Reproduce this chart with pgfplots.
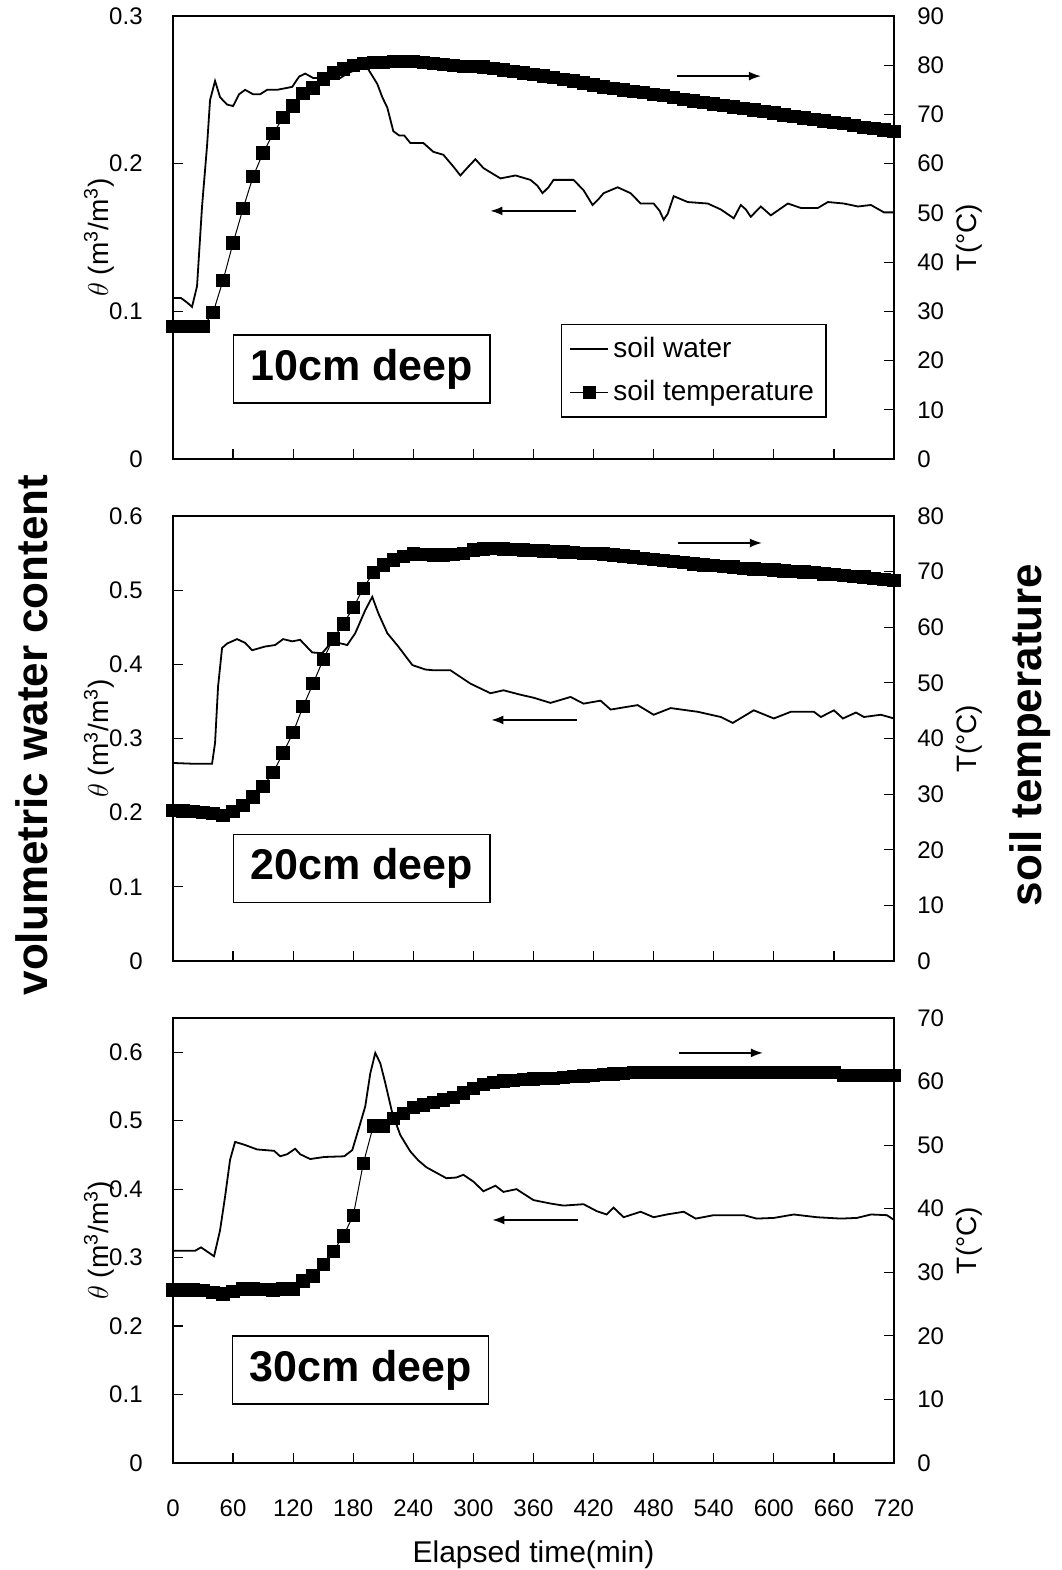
\documentclass[border=0pt]{standalone}
\usepackage{fontspec}
\setmainfont{Liberation Sans}
\usepackage{pgfplots}
\pgfplotsset{compat=1.18}
\usetikzlibrary{arrows.meta}

\pgfplotsset{
  panel/.style={scale only axis, width=360.5bp, xmin=0, xmax=720,
    tick align=inside, major tick length=5bp,
    axis line style={line width=0.6bp},
    every tick/.style={black, line width=0.6bp},
    tick label style={font=\fontsize{12bp}{14bp}\selectfont},
    /pgf/number format/assume math mode=true, clip=false},
  leftax/.style={panel, xtick={0,60,...,720}, xtick pos=bottom, ytick pos=left,
    yticklabel style={anchor=east, inner xsep=0pt, xshift=-15bp},
    every axis y label/.style={at={(rel axis cs:0,0.5)}, xshift=-37bp, rotate=90, anchor=center,
      font=\fontsize{14bp}{16bp}\selectfont}},
  rightax/.style={panel, axis x line=none, axis y line*=right,
    yticklabel style={anchor=west, inner xsep=0pt, xshift=11.5bp},
    every axis y label/.style={at={(rel axis cs:1,0.5)}, xshift=37.5bp, rotate=90, anchor=center,
      font=\fontsize{14bp}{16bp}\selectfont}},
  wline/.style={black, line width=0.9bp, mark=none},
  tline/.style={black, line width=0.5bp, mark=square*, mark size=3.1bp,
    mark options={solid, fill=black, draw=black, line width=0pt}},
}
\tikzset{
  deepbox/.style={draw, line width=0.6bp, fill=white, minimum width=128bp, minimum height=34bp,
    inner sep=0pt, font=\bfseries\fontsize{21.5bp}{24bp}\selectfont},
  arr/.style={black, line width=0.7bp, -{Latex[length=6bp,width=4.5bp]}},
}

\begin{document}
\begin{tikzpicture}
\path[use as bounding box] (0,0) rectangle (531bp,785bp);

% ================= Panel 1 : 10 cm =================
\begin{axis}[leftax, at={(86.5bp,555.5bp)}, anchor=south west, height=221.5bp,
  ymin=0, ymax=0.3, ytick={0,0.1,0.2,0.3}, xticklabels={},
  ylabel={$\theta$ (m\textsuperscript{3}/m\textsuperscript{3})},
  legend cell align=left,
  legend style={at={(rel axis cs:0.538,0.305)}, anchor=north west, draw=black, line width=0.6bp,
    font=\fontsize{14bp}{16bp}\selectfont, inner xsep=4bp, inner ysep=4.5bp, row sep=6bp}]
\addplot[wline, forget plot] table {
0 0.109
8 0.109
14 0.106
19 0.103
24 0.117
29 0.171
34 0.212
37 0.243
42 0.256
47 0.245
54 0.240
60 0.239
66 0.247
72 0.250
80 0.247
87 0.247
94 0.250
104 0.250
119 0.252
126 0.259
132 0.261
140 0.258
154 0.258
167 0.258
174 0.261
187 0.265
194 0.265
204 0.254
209 0.245
214 0.238
220 0.222
226 0.219
231 0.219
237 0.214
250 0.214
260 0.208
270 0.206
280 0.198
287 0.192
295 0.198
302 0.203
310 0.197
327 0.190
342 0.192
357 0.189
364 0.185
369 0.180
375 0.184
380 0.189
400 0.189
410 0.182
419 0.172
425 0.176
430 0.180
444 0.184
457 0.180
467 0.173
480 0.173
486 0.168
490 0.162
494 0.166
500 0.178
514 0.174
534 0.173
547 0.169
560 0.163
567 0.172
572 0.169
577 0.164
587 0.171
597 0.165
614 0.173
627 0.170
644 0.170
654 0.174
670 0.173
684 0.171
697 0.172
710 0.167
720 0.167
};
\addlegendimage{black, legend image code/.code={\draw[black, line width=0.9bp] (0bp,0bp) -- (19bp,0bp);}}
\addlegendentry{soil water}
\addlegendimage{black, legend image code/.code={\draw[black, line width=0.5bp] (0bp,0bp) -- (19bp,0bp); \fill[black] (6.5bp,-3bp) rectangle (12.5bp,3bp);}}
\addlegendentry{soil temperature}
\draw[arr] (axis cs:503,0.2593) -- (axis cs:587,0.2593);
\draw[arr] (axis cs:402,0.168) -- (axis cs:317,0.168);
\end{axis}
\begin{axis}[rightax, at={(86.5bp,555.5bp)}, anchor=south west, height=221.5bp,
  ymin=0, ymax=90, ytick={0,10,20,30,40,50,60,70,80,90}, ylabel={T(°C)}]
\addplot[tline] table {
0 26.9
10 26.9
20 26.9
30 26.9
40 29.7
50 36.3
60 43.9
70 50.9
80 57.4
90 62.2
100 66.1
110 69.4
120 71.7
130 74.3
140 75.4
150 77.2
160 78.4
170 79.2
180 80.0
190 80.4
200 80.5
210 80.6
220 80.7
230 80.8
240 80.8
250 80.6
260 80.3
270 80.1
280 79.9
290 79.7
300 79.7
310 79.6
320 79.3
330 79.0
340 78.7
350 78.4
360 78.1
370 77.8
380 77.5
390 77.1
400 76.8
410 76.4
420 76.0
430 75.6
440 75.3
450 75.0
460 74.7
470 74.4
480 74.1
490 73.8
500 73.4
510 73.0
520 72.7
530 72.4
540 72.1
550 71.8
560 71.5
570 71.2
580 70.9
590 70.6
600 70.3
610 69.9
620 69.6
630 69.3
640 69.0
650 68.7
660 68.4
670 68.1
680 67.8
690 67.4
700 67.1
710 66.8
720 66.5
};
\node[deepbox] at (rel axis cs:0.262,0.203) {10cm deep};
\end{axis}

% ================= Panel 2 : 20 cm =================
\begin{axis}[leftax, at={(86.5bp,304.5bp)}, anchor=south west, height=222.5bp,
  ymin=0, ymax=0.6, ytick={0,0.1,0.2,0.3,0.4,0.5,0.6}, xticklabels={},
  ylabel={$\theta$ (m\textsuperscript{3}/m\textsuperscript{3})}]
\addplot[wline] table {
0 0.267
19 0.266
39 0.266
42 0.294
45 0.370
49 0.422
54 0.428
64 0.434
72 0.429
79 0.419
92 0.424
102 0.426
110 0.434
119 0.431
127 0.433
139 0.416
149 0.415
159 0.431
174 0.426
182 0.442
192 0.473
199 0.491
205 0.469
214 0.442
225 0.424
239 0.399
252 0.393
260 0.392
277 0.392
287 0.383
297 0.374
317 0.361
330 0.365
347 0.359
360 0.355
377 0.348
397 0.356
410 0.347
427 0.351
437 0.339
464 0.345
480 0.332
497 0.341
524 0.336
547 0.329
559 0.321
580 0.338
600 0.327
617 0.336
640 0.336
647 0.329
660 0.338
669 0.327
682 0.335
690 0.329
707 0.332
720 0.327
};
\draw[arr] (axis cs:504,0.5636) -- (axis cs:588,0.5636);
\draw[arr] (axis cs:403,0.325) -- (axis cs:318,0.325);
\end{axis}
\begin{axis}[rightax, at={(86.5bp,304.5bp)}, anchor=south west, height=222.5bp,
  ymin=0, ymax=80, ytick={0,10,20,30,40,50,60,70,80}, ylabel={T(°C)}]
\addplot[tline] table {
0 27.1
10 27.0
20 26.9
30 26.7
40 26.5
50 26.2
60 26.9
70 28.0
80 29.5
90 31.4
100 33.9
110 37.4
120 41.1
130 45.8
140 49.9
150 54.2
160 57.9
170 60.6
180 63.5
190 67.0
200 69.8
210 71.2
220 72.1
230 72.7
240 73.2
250 73.1
260 73.0
270 73.0
280 73.1
290 73.3
300 73.9
310 74.1
320 74.2
330 74.1
340 74.0
350 73.9
360 73.8
370 73.7
380 73.6
390 73.5
400 73.4
410 73.3
420 73.3
430 73.2
440 73.0
450 72.8
460 72.6
470 72.4
480 72.2
490 72.0
500 71.8
510 71.6
520 71.4
530 71.2
540 71.1
550 70.9
560 70.8
570 70.6
580 70.5
590 70.4
600 70.3
610 70.1
620 70.0
630 69.9
640 69.8
650 69.6
660 69.5
670 69.3
680 69.1
690 69.0
700 68.8
710 68.6
720 68.4
};
\node[deepbox] at (rel axis cs:0.262,0.207) {20cm deep};
\end{axis}

% ================= Panel 3 : 30 cm =================
\begin{axis}[leftax, at={(86.5bp,53.5bp)}, anchor=south west, height=222.5bp,
  ymin=0, ymax=0.65, ytick={0,0.1,0.2,0.3,0.4,0.5,0.6},
  xticklabel style={anchor=center, yshift=-22.5bp},
  ylabel={$\theta$ (m\textsuperscript{3}/m\textsuperscript{3})},
  xlabel={Elapsed time(min)},
  every axis x label/.style={at={(rel axis cs:0.5,0)}, yshift=-46bp, anchor=center,
    font=\fontsize{15bp}{17bp}\selectfont}]
\addplot[wline] table {
0 0.310
22 0.310
28 0.315
36 0.307
41 0.302
47 0.340
52 0.389
57 0.443
62 0.469
71 0.465
84 0.458
101 0.456
107 0.448
114 0.451
122 0.459
127 0.451
137 0.444
151 0.447
171 0.448
179 0.457
186 0.491
192 0.521
197 0.569
202 0.599
207 0.584
212 0.555
219 0.511
227 0.479
237 0.455
245 0.442
253 0.432
263 0.424
273 0.416
283 0.417
290 0.421
300 0.411
310 0.397
322 0.405
330 0.396
343 0.400
360 0.384
377 0.379
390 0.376
410 0.378
423 0.368
433 0.363
440 0.373
450 0.359
467 0.367
480 0.359
493 0.363
510 0.367
522 0.357
540 0.362
570 0.362
583 0.357
600 0.358
620 0.363
643 0.359
667 0.357
683 0.358
697 0.363
713 0.362
720 0.355
};
\draw[arr] (axis cs:505,0.599) -- (axis cs:589,0.599);
\draw[arr] (axis cs:404,0.355) -- (axis cs:319,0.355);
\end{axis}
\begin{axis}[rightax, at={(86.5bp,53.5bp)}, anchor=south west, height=222.5bp,
  ymin=0, ymax=70, ytick={0,10,20,30,40,50,60,70}, ylabel={T(°C)}]
\addplot[tline] table {
0 27.2
10 27.2
20 27.2
30 27.1
40 26.8
50 26.6
60 27.0
70 27.4
80 27.4
90 27.3
100 27.2
110 27.4
120 27.4
130 28.6
140 29.4
150 31.2
160 33.3
170 35.7
180 38.9
190 47.1
200 53.0
210 53.0
220 54.2
230 55.0
240 55.9
250 56.3
260 56.7
270 57.1
280 57.5
290 58.2
300 58.9
310 59.5
320 59.9
330 60.1
340 60.2
350 60.3
360 60.4
370 60.5
380 60.5
390 60.6
400 60.8
410 60.9
420 61.0
430 61.1
440 61.2
450 61.3
460 61.4
470 61.4
480 61.4
490 61.4
500 61.4
510 61.4
520 61.4
530 61.4
540 61.4
550 61.4
560 61.4
570 61.4
580 61.4
590 61.4
600 61.4
610 61.4
620 61.4
630 61.4
640 61.4
650 61.4
660 61.4
670 61.0
680 61.0
690 61.0
700 61.0
710 61.0
720 61.0
};
\node[deepbox] at (rel axis cs:0.260,0.209) {30cm deep};
\end{axis}

% ================= side titles =================
\node[rotate=90, font=\bfseries\fontsize{22bp}{26bp}\selectfont] at (16bp,417.5bp) {volumetric water content};
\node[rotate=90, font=\bfseries\fontsize{22bp}{26bp}\selectfont] at (515bp,417.5bp) {soil temperature};
\end{tikzpicture}
\end{document}
